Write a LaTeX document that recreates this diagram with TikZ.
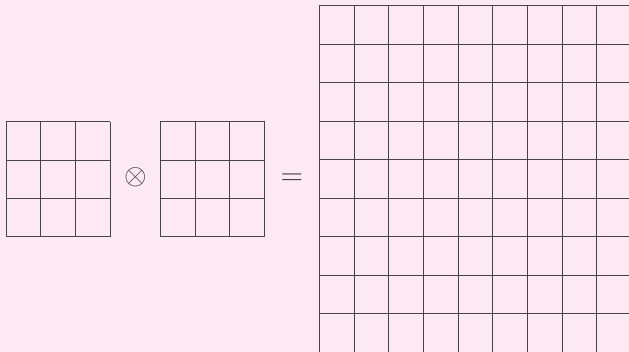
\documentclass[tikz,border=0pt]{standalone}
\usepackage{amsmath}
\usepackage{graphicx}
\definecolor{bgpink}{RGB}{253,233,242}
\definecolor{gridline}{RGB}{72,68,70}
\begin{document}
\begin{tikzpicture}[x=1pt,y=-1pt,
  gridstyle/.style={draw=gridline,line width=1pt},
  opsym/.style={inner sep=0pt,text=gridline}]
\useasboundingbox (0,0) rectangle (629,352);
\fill[bgpink] (0,0) rectangle (629,352);
\begin{scope}
\clip (0,0) rectangle (629,352);
% left grid 3x3
\foreach \i in {0,...,3} {
  \draw[gridstyle] (6.3+\i*34.67,121.7) -- (6.3+\i*34.67,237);
  \draw[gridstyle] (6.3,121.7+\i*38.43) -- (110.3,121.7+\i*38.43);
}
% middle grid 3x3
\foreach \i in {0,...,3} {
  \draw[gridstyle] (160.3+\i*34.8,121.7) -- (160.3+\i*34.8,237);
  \draw[gridstyle] (160.3,121.7+\i*38.43) -- (264.7,121.7+\i*38.43);
}
% big grid 9x9 (cut by the picture's edge at right and bottom)
\foreach \i in {0,...,8} {
  \draw[gridstyle] (319.3+\i*34.7,6) -- (319.3+\i*34.7,353);
  \draw[gridstyle] (319.3,6+\i*38.43) -- (631.6,6+\i*38.43);
}
\end{scope}
\node[opsym] (otimes) at (135.8,177) {\scalebox{2.9}{$\otimes$}};
\node[opsym] (equals) at (292,178.8) {\scalebox{2.9}{$=$}};
\end{tikzpicture}
\end{document}
